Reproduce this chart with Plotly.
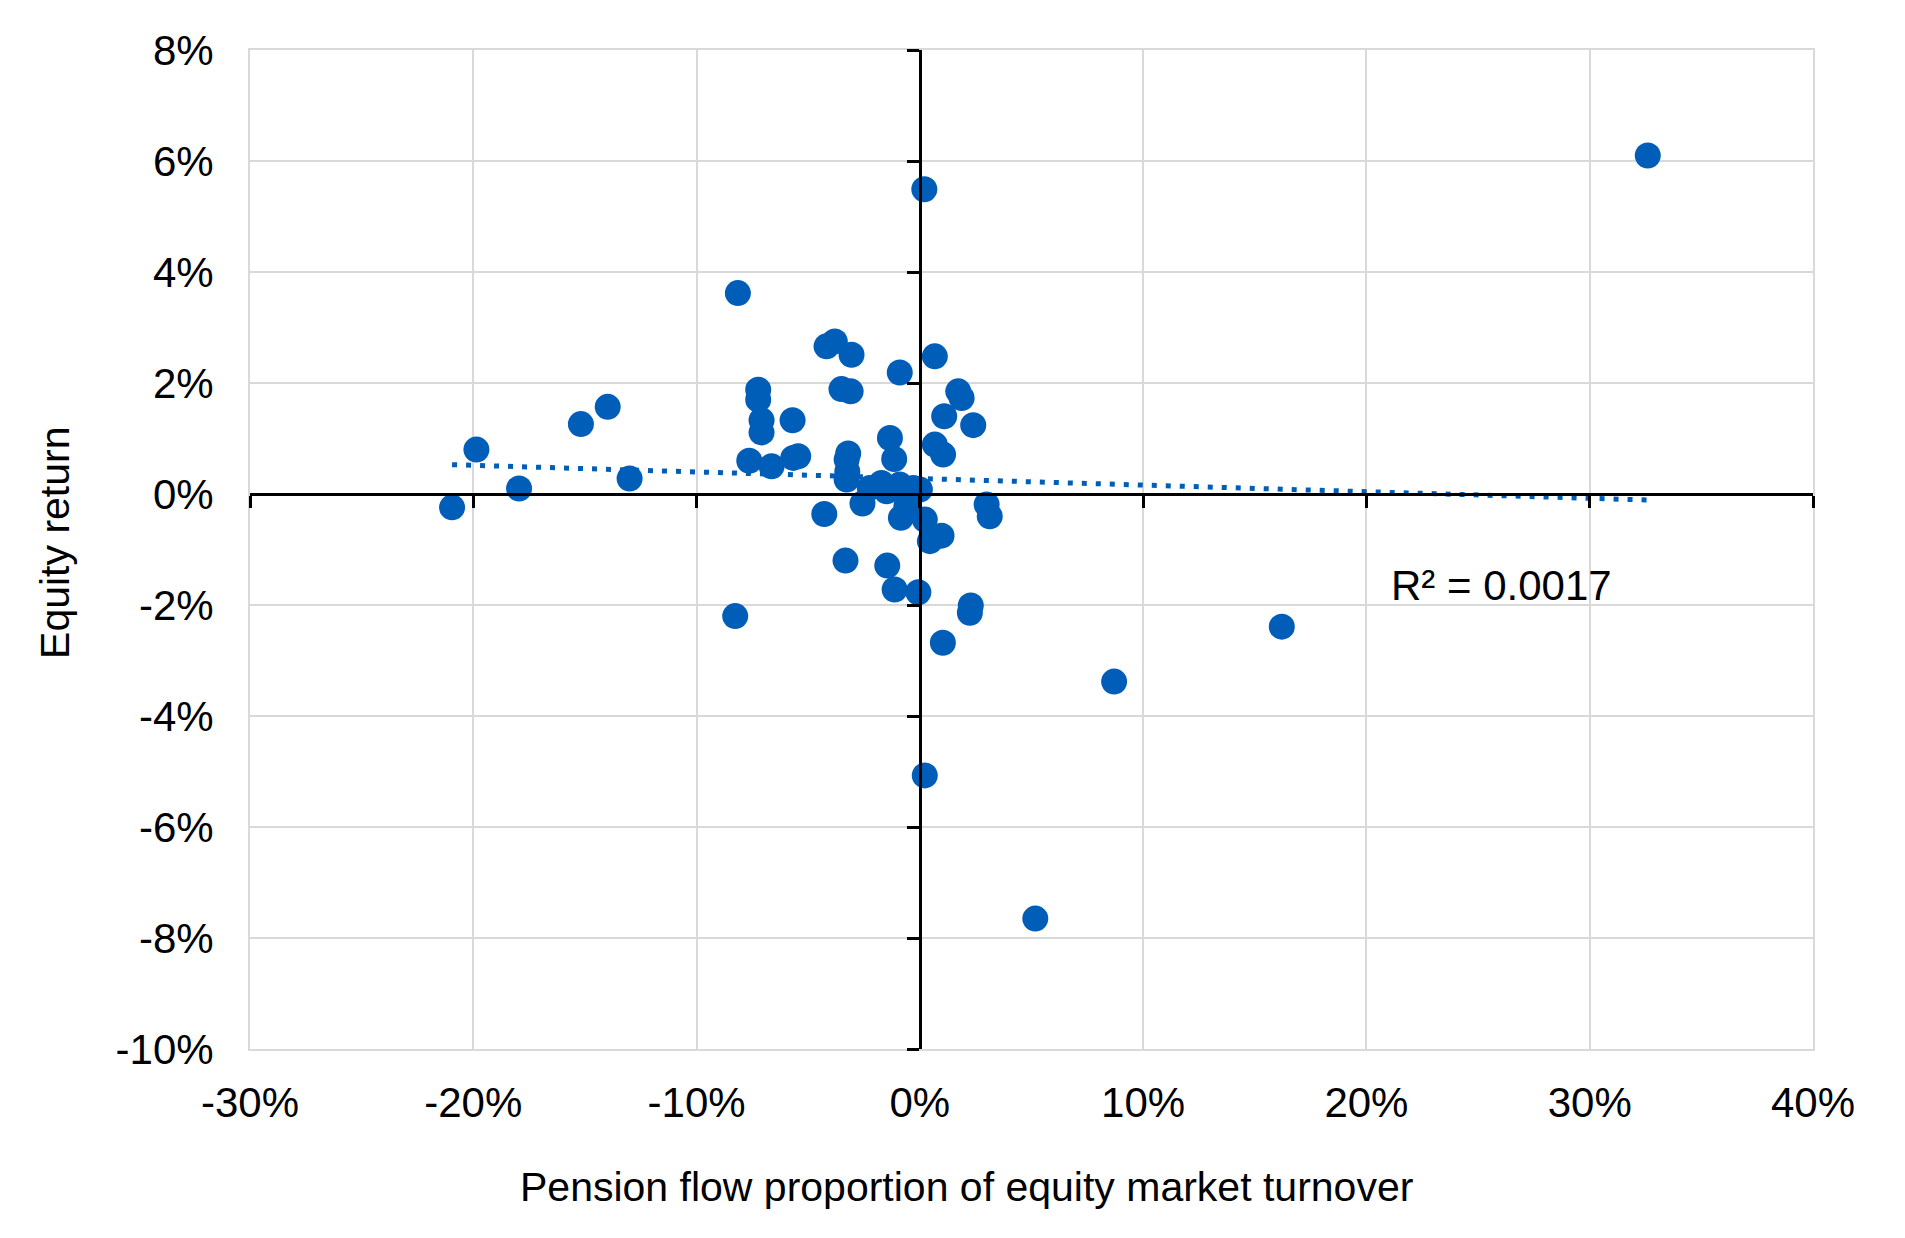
import numpy as np
import plotly.graph_objects as go

# Pension flow proportion of equity market turnover (%)
flow_pct = [32.6, 0.2, -8.15, -19.86, -20.95, -17.95, -15.18, -13.98, -13.0, -8.27,
            16.21, 8.7, 0.22, 5.17, 1.03,
            -4.18, -3.81, -3.06, -0.90, 0.67, -7.24, -7.24, -7.09, -7.09, -5.70,
            -3.51, -3.10, 1.72, 1.87, 1.09, 2.39, -1.34, -1.15, 0.67, 1.04,
            -7.64, -6.64, -5.67, -5.45, -3.21, -3.28, -3.28, -3.25, -2.57, -4.28,
            -2.24, -1.72, -1.49, -0.90, -0.30, 0.00, -0.45, -0.60, -0.85, 0.22,
            0.45, 0.97, 2.99, 3.13, -3.33, -1.46, -1.13, -0.07, 2.28, 2.24]
# Equity return (%)
return_pct = [6.10, 5.49, 3.62, 0.80, -0.24, 0.10, 1.26, 1.57, 0.28, -2.20,
              -2.39, -3.38, -5.07, -7.65, -2.68,
              2.66, 2.75, 2.51, 2.19, 2.48, 1.88, 1.70, 1.33, 1.11, 1.33,
              1.89, 1.85, 1.85, 1.73, 1.40, 1.24, 1.01, 0.63, 0.89, 0.71,
              0.60, 0.50, 0.65, 0.68, 0.73, 0.62, 0.26, 0.40, -0.17, -0.36,
              0.11, 0.20, 0.05, 0.17, 0.11, 0.08, -0.07, -0.22, -0.43, -0.46,
              -0.85, -0.75, -0.19, -0.40, -1.20, -1.29, -1.72, -1.77, -2.01, -2.14]

x_tickvals = [-0.3, -0.2, -0.1, 0.0, 0.1, 0.2, 0.3, 0.4]
x_ticktext = ["-30%", "-20%", "-10%", "0%", "10%", "20%", "30%", "40%"]
y_tickvals = [-0.10, -0.08, -0.06, -0.04, -0.02, 0.0, 0.02, 0.04, 0.06, 0.08]
y_ticktext = ["-10%", "-8%", "-6%", "-4%", "-2%", "0%", "2%", "4%", "6%", "8%"]
r2_text = "R² = 0.0017"

x = np.array(flow_pct) / 100.0
y = np.array(return_pct) / 100.0
slope, intercept = np.polyfit(x, y, 1)
tx = np.array([x.min(), x.max()])
ty = slope * tx + intercept

BLUE = "#005EB8"
FONT = "Liberation Sans, Arial, sans-serif"
GRID = "#d9d9d9"

fig = go.Figure()
fig.add_trace(go.Scatter(x=tx, y=ty, mode="lines",
                         line=dict(color=BLUE, width=5, dash="5px,9px"),
                         hoverinfo="skip", showlegend=False))
fig.add_trace(go.Scatter(x=x, y=y, mode="markers",
                         marker=dict(color=BLUE, size=26, line=dict(width=0)),
                         showlegend=False))
# helper trace for the zero-crossing axes
fig.add_trace(go.Scatter(x=[None], y=[None], xaxis="x2", yaxis="y2",
                         showlegend=False, hoverinfo="skip"))

xr = [-0.3, 0.4]
yr = [-0.10, 0.08]

fig.update_layout(
    width=1897, height=1230,
    margin=dict(l=242, r=92, t=42, b=189),
    paper_bgcolor="white", plot_bgcolor="white",
    font=dict(family=FONT, size=42, color="black"),
    xaxis=dict(range=xr, tickvals=x_tickvals, ticktext=x_ticktext,
               showgrid=True, gridcolor=GRID, gridwidth=2, zeroline=False,
               showline=True, linecolor=GRID, linewidth=2, mirror=True,
               ticks="", ticklabelstandoff=16,
               tickfont=dict(family=FONT, size=42, color="black")),
    yaxis=dict(range=yr, tickvals=y_tickvals, ticktext=y_ticktext,
               showgrid=True, gridcolor=GRID, gridwidth=2, zeroline=False,
               showline=True, linecolor=GRID, linewidth=2, mirror=True,
               ticks="", ticklabelstandoff=26,
               tickfont=dict(family=FONT, size=42, color="black")),
    xaxis2=dict(range=xr, tickvals=x_tickvals, overlaying="x", anchor="free",
                position=(0 - yr[0]) / (yr[1] - yr[0]), side="bottom",
                showgrid=False, zeroline=False, showticklabels=False,
                showline=True, linecolor="black", linewidth=2.5,
                ticks="outside", ticklen=12, tickwidth=2.5, tickcolor="black"),
    yaxis2=dict(range=yr, tickvals=y_tickvals, overlaying="y", anchor="free",
                position=(0 - xr[0]) / (xr[1] - xr[0]), side="left",
                showgrid=False, zeroline=False, showticklabels=False,
                showline=True, linecolor="black", linewidth=2.5,
                ticks="outside", ticklen=12, tickwidth=2.5, tickcolor="black"),
    annotations=[
        dict(text="Pension flow proportion of equity market turnover",
             xref="paper", yref="paper", x=0.4587, y=-0.138,
             xanchor="center", yanchor="middle", showarrow=False,
             font=dict(family=FONT, size=41, color="black")),
        dict(text="Equity return", xref="paper", yref="paper",
             x=-0.1248, y=0.5065, xanchor="center", yanchor="middle",
             textangle=-90, showarrow=False,
             font=dict(family=FONT, size=41, color="black")),
        dict(text=r2_text, xref="x", yref="y", x=0.21, y=-0.0165,
             xanchor="left", yanchor="middle", showarrow=False,
             font=dict(family=FONT, size=42, color="black")),
    ],
)

fig.write_html("out.html")
